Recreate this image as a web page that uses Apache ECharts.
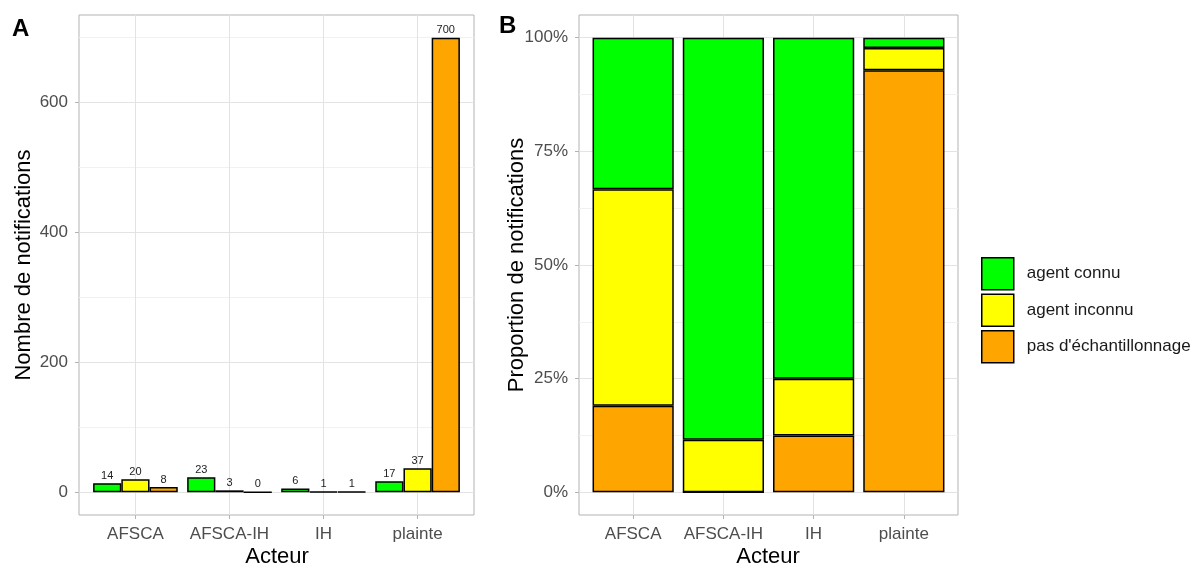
<!DOCTYPE html>
<html><head><meta charset="utf-8">
<script src="https://cdn.jsdelivr.net/npm/echarts@6/dist/echarts.min.js"></script>
<style>html,body{margin:0;padding:0;background:#fff}#c{width:1197px;height:566px}</style>
</head><body><div id="c"></div>
<script>
const categories = ['AFSCA', 'AFSCA-IH', 'IH', 'plainte'];
const agentConnu = [14, 23, 6, 17];
const agentInconnu = [20, 3, 1, 37];
const pasEchant = [8, 0, 1, 700];
const seriesNames = ['agent connu', 'agent inconnu', "pas d'échantillonnage"];
const colors = ['#00ff00', '#ffff00', '#ffa500'];
const countTicks = [0, 200, 400, 600];
const countMinor = [100, 300, 500, 700];
const pctTicks = [0, 25, 50, 75, 100];
const pctMinor = [12.5, 37.5, 62.5, 87.5];

const FONT = 'Liberation Sans, Arial, sans-serif';
const counts = [agentConnu, agentInconnu, pasEchant];
const totals = categories.map((_, i) => counts.reduce((s, a) => s + a[i], 0));
const props = counts.map(a => a.map((v, i) => v / totals[i] * 100));

const gA = {left: 79, top: 15, width: 395, height: 500};
const gB = {left: 579, top: 15, width: 379, height: 500};
const dodge = 0.9;
const unitA = gA.width / 4.2;
const unitB = gB.width / 4.2;
const bwA = dodge / 3 * unitA;
const bwB = dodge * unitB;
const gC = {left: gB.left + 0.1 * unitB, top: gB.top, width: 4 * unitB, height: gB.height};

function xAxis(gi) {
  return {
    type: 'value', gridIndex: gi, min: 0.4, max: 4.6,
    axisLine: {show: false, onZero: false},
    axisTick: {show: true, length: 4, lineStyle: {color: '#b3b3b3'}, customValues: [1, 2, 3, 4]},
    axisLabel: {customValues: [1, 2, 3, 4], formatter: v => categories[Math.round(v) - 1], color: '#4d4d4d', fontSize: 17, fontFamily: FONT, margin: 11},
    splitLine: {show: true, lineStyle: {color: '#e3e3e3', width: 1}}
  };
}
function yAxis(gi, min, max, ticks, fmt) {
  return {
    type: 'value', gridIndex: gi, min: min, max: max,
    axisLine: {show: false, onZero: false},
    axisTick: {show: true, length: 4, lineStyle: {color: '#b3b3b3'}, customValues: ticks},
    axisLabel: {customValues: ticks, formatter: fmt, color: '#4d4d4d', fontSize: 17, fontFamily: FONT, margin: 11},
    splitLine: {show: true, lineStyle: {color: '#e3e3e3', width: 1}}
  };
}
function yMinor(gi, min, max, ticks) {
  return {
    type: 'value', gridIndex: gi, min: min, max: max,
    axisLine: {show: false, onZero: false},
    axisTick: {show: false, customValues: ticks},
    axisLabel: {show: false, customValues: ticks},
    splitLine: {show: true, lineStyle: {color: '#f1f1f1', width: 1}}
  };
}

const series = [];
const offsets = [-dodge / 3, 0, dodge / 3];
counts.forEach((arr, k) => {
  series.push({
    name: seriesNames[k], type: 'bar', xAxisIndex: 0, yAxisIndex: 0,
    barWidth: bwA, barGap: '-100%',
    itemStyle: {color: colors[k], borderColor: '#000', borderWidth: 1.5},
    label: {show: true, position: 'top', distance: 2, fontSize: 11, color: '#222', fontFamily: FONT, formatter: p => p.value[1]},
    data: arr.map((v, i) => [i + 1 + offsets[k], v]),
    z: 3
  });
});
[2, 1, 0].forEach(k => {
  series.push({
    name: seriesNames[k], type: 'bar', xAxisIndex: 2, yAxisIndex: 4, stack: 'fill',
    barWidth: bwB,
    itemStyle: {color: colors[k], borderColor: '#000', borderWidth: 1.5},
    data: props[k],
    z: 3
  });
});

const chart = echarts.init(document.getElementById('c'), null, {renderer: 'canvas'});
chart.setOption({
  backgroundColor: '#fff',
  animation: false,
  textStyle: {fontFamily: FONT},
  grid: [
    Object.assign({show: true, borderColor: '#b3b3b3', borderWidth: 1, backgroundColor: '#fff'}, gA),
    Object.assign({show: true, borderColor: '#b3b3b3', borderWidth: 1, backgroundColor: '#fff'}, gB),
    Object.assign({show: false}, gC)
  ],
  xAxis: [xAxis(0), xAxis(1), {type: 'category', gridIndex: 2, data: categories, show: false}],
  yAxis: [
    yAxis(0, -35, 735, countTicks, v => String(v)),
    yMinor(0, -35, 735, countMinor),
    yAxis(1, -5, 105, pctTicks, v => v + '%'),
    yMinor(1, -5, 105, pctMinor),
    {type: 'value', gridIndex: 2, min: -5, max: 105, show: false}
  ],
  legend: {
    data: seriesNames, orient: 'vertical', left: 976, top: 252,
    itemWidth: 32, itemHeight: 32, itemGap: 3, icon: 'rect', selectedMode: false,
    itemStyle: {borderColor: '#000', borderWidth: 1.5},
    textStyle: {fontSize: 17, color: '#1a1a1a', fontFamily: FONT, padding: [0, 0, 0, 8]}
  },
  graphic: [
    {type: 'text', left: 12, top: 17, style: {text: 'A', font: 'bold 24px ' + FONT, fill: '#000'}},
    {type: 'text', left: 499, top: 14, style: {text: 'B', font: 'bold 24px ' + FONT, fill: '#000'}},
    {type: 'text', x: 24, y: 265, rotation: Math.PI / 2, style: {text: 'Nombre de notifications', font: '22px ' + FONT, fill: '#000', align: 'center', verticalAlign: 'middle'}},
    {type: 'text', x: 517, y: 265, rotation: Math.PI / 2, style: {text: 'Proportion de notifications', font: '22px ' + FONT, fill: '#000', align: 'center', verticalAlign: 'middle'}},
    {type: 'text', x: 277, y: 557, style: {text: 'Acteur', font: '22px ' + FONT, fill: '#000', align: 'center', verticalAlign: 'middle'}},
    {type: 'text', x: 768, y: 557, style: {text: 'Acteur', font: '22px ' + FONT, fill: '#000', align: 'center', verticalAlign: 'middle'}}
  ],
  series: series
});
</script></body></html>
